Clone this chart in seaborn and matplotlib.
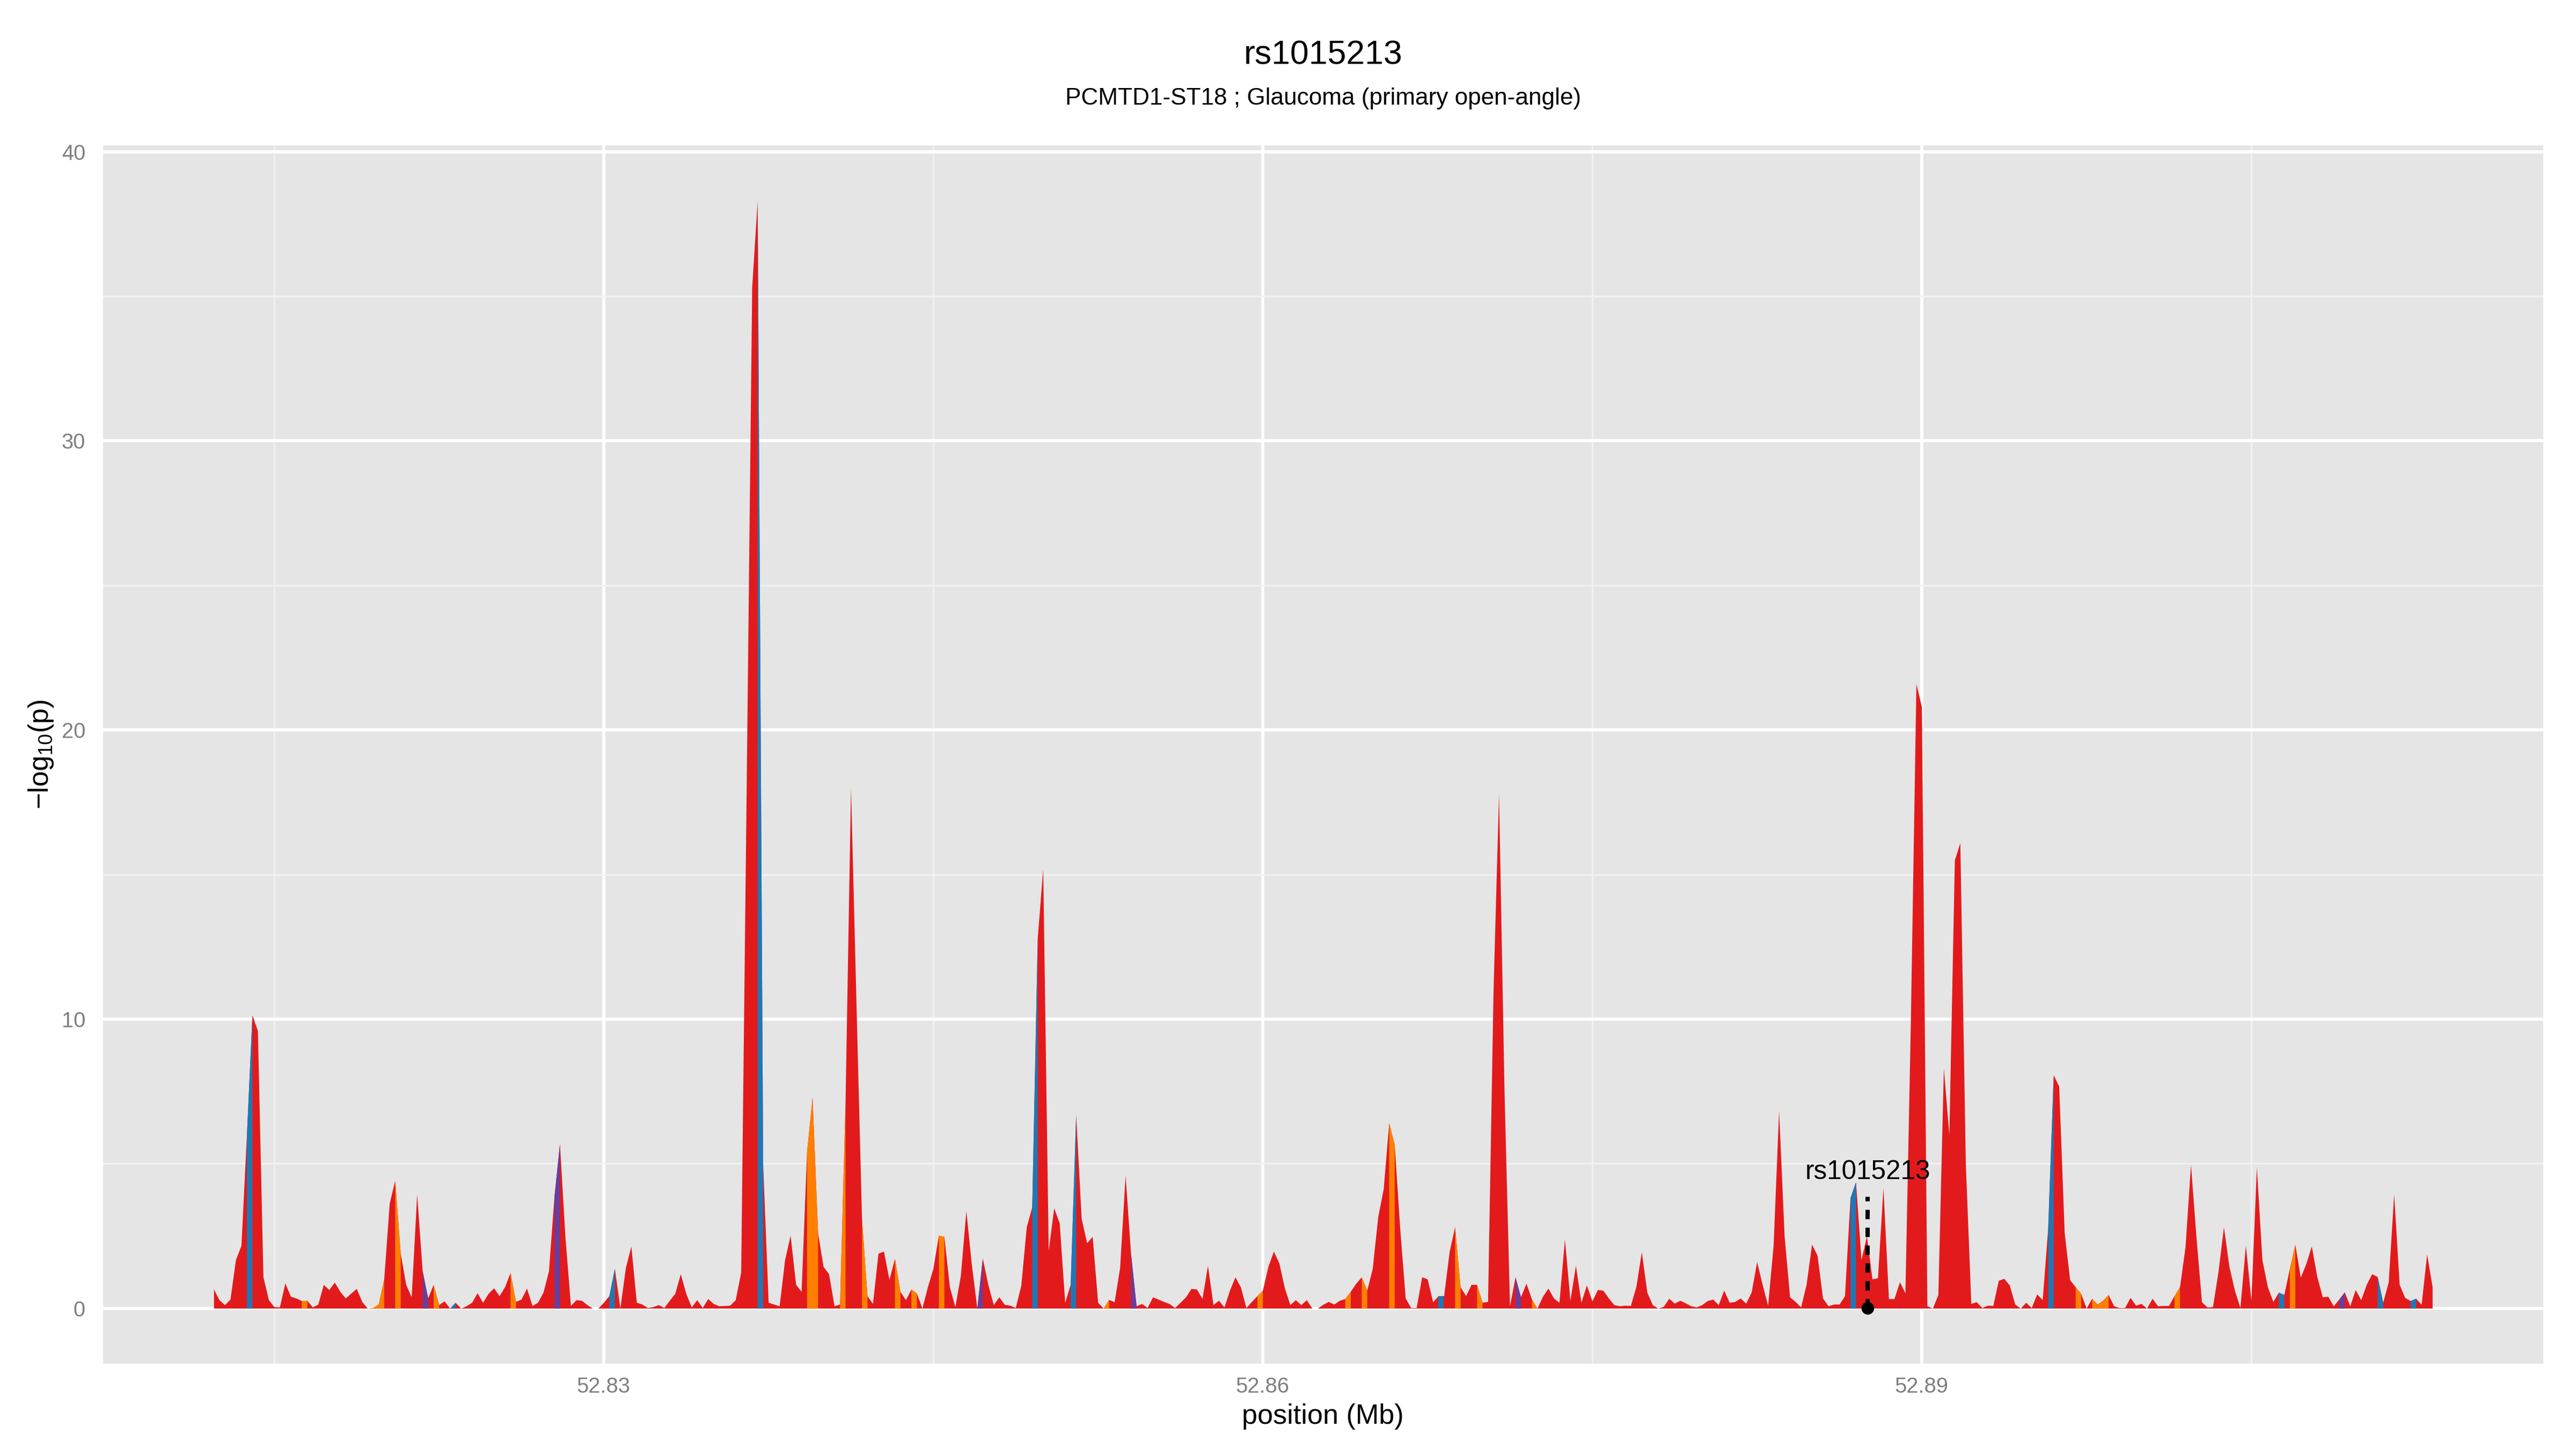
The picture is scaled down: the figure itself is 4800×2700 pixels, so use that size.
import numpy as np
import pandas as pd
import matplotlib
matplotlib.use("Agg")
import matplotlib.pyplot as plt
import seaborn as sns

# positions in kb above 52.80 Mb
POS_KB = [
    12.25, 12.5, 12.75, 13.0, 13.25, 13.5, 13.75, 14.0, 14.25, 14.5, 14.75, 15.0, 15.25, 15.5, 15.75, 16.0, 16.25, 16.5, 16.75, 17.0,
    17.25, 17.5, 17.75, 18.0, 18.25, 18.5, 18.75, 19.0, 19.25, 19.5, 19.75, 20.0, 20.25, 20.5, 20.75, 21.0, 21.25, 21.5, 21.75, 22.0,
    22.25, 22.5, 22.75, 23.0, 23.25, 23.5, 23.75, 24.0, 24.25, 24.5, 24.75, 25.0, 25.25, 25.5, 25.75, 26.0, 26.25, 26.5, 26.75, 27.0,
    27.25, 27.5, 27.75, 28.0, 28.25, 28.5, 28.75, 29.0, 29.25, 29.5, 29.75, 30.0, 30.25, 30.5, 30.75, 31.0, 31.25, 31.5, 31.75, 32.0,
    32.25, 32.5, 32.75, 33.0, 33.25, 33.5, 33.75, 34.0, 34.25, 34.5, 34.75, 35.0, 35.25, 35.5, 35.75, 36.0, 36.25, 36.5, 36.75, 37.0,
    37.25, 37.5, 37.75, 38.0, 38.25, 38.5, 38.75, 39.0, 39.25, 39.5, 39.75, 40.0, 40.25, 40.5, 40.75, 41.0, 41.25, 41.5, 41.75, 42.0,
    42.25, 42.5, 42.75, 43.0, 43.25, 43.5, 43.75, 44.0, 44.25, 44.5, 44.75, 45.0, 45.25, 45.5, 45.75, 46.0, 46.25, 46.5, 46.75, 47.0,
    47.25, 47.5, 47.75, 48.0, 48.25, 48.5, 48.75, 49.0, 49.25, 49.5, 49.75, 50.0, 50.25, 50.5, 50.75, 51.0, 51.25, 51.5, 51.75, 52.0,
    52.25, 52.5, 52.75, 53.0, 53.25, 53.5, 53.75, 54.0, 54.25, 54.5, 54.75, 55.0, 55.25, 55.5, 55.75, 56.0, 56.25, 56.5, 56.75, 57.0,
    57.25, 57.5, 57.75, 58.0, 58.25, 58.5, 58.75, 59.0, 59.25, 59.5, 59.75, 60.0, 60.25, 60.5, 60.75, 61.0, 61.25, 61.5, 61.75, 62.0,
    62.25, 62.5, 62.75, 63.0, 63.25, 63.5, 63.75, 64.0, 64.25, 64.5, 64.75, 65.0, 65.25, 65.5, 65.75, 66.0, 66.25, 66.5, 66.75, 67.0,
    67.25, 67.5, 67.75, 68.0, 68.25, 68.5, 68.75, 69.0, 69.25, 69.5, 69.75, 70.0, 70.25, 70.5, 70.75, 71.0, 71.25, 71.5, 71.75, 72.0,
    72.25, 72.5, 72.75, 73.0, 73.25, 73.5, 73.75, 74.0, 74.25, 74.5, 74.75, 75.0, 75.25, 75.5, 75.75, 76.0, 76.25, 76.5, 76.75, 77.0,
    77.25, 77.5, 77.75, 78.0, 78.25, 78.5, 78.75, 79.0, 79.25, 79.5, 79.75, 80.0, 80.25, 80.5, 80.75, 81.0, 81.25, 81.5, 81.75, 82.0,
    82.25, 82.5, 82.75, 83.0, 83.25, 83.5, 83.75, 84.0, 84.25, 84.5, 84.75, 85.0, 85.25, 85.5, 85.75, 86.0, 86.25, 86.5, 86.75, 87.0,
    87.25, 87.5, 87.75, 88.0, 88.25, 88.5, 88.75, 89.0, 89.25, 89.5, 89.75, 90.0, 90.25, 90.5, 90.75, 91.0, 91.25, 91.5, 91.75, 92.0,
    92.25, 92.5, 92.75, 93.0, 93.25, 93.5, 93.75, 94.0, 94.25, 94.5, 94.75, 95.0, 95.25, 95.5, 95.75, 96.0, 96.25, 96.5, 96.75, 97.0,
    97.25, 97.5, 97.75, 98.0, 98.25, 98.5, 98.75, 99.0, 99.25, 99.5, 99.75, 100.0, 100.25, 100.5, 100.75, 101.0, 101.25, 101.5, 101.75, 102.0,
    102.25, 102.5, 102.75, 103.0, 103.25, 103.5, 103.75, 104.0, 104.25, 104.5, 104.75, 105.0, 105.25, 105.5, 105.75, 106.0, 106.25, 106.5, 106.75, 107.0,
    107.25, 107.5, 107.75, 108.0, 108.25, 108.5, 108.75, 109.0, 109.25, 109.5, 109.75, 110.0, 110.25, 110.5, 110.75, 111.0, 111.25, 111.5, 111.75, 112.0,
    112.25, 112.5, 112.75, 113.0, 113.25,
]

LOG_P = [
    0.66, 0.29, 0.12, 0.31, 1.68, 2.17, 6.0, 10.14, 9.6, 1.09, 0.29, 0.05, 0.04, 0.87, 0.41, 0.35, 0.26, 0.27, 0.04, 0.14,
    0.82, 0.64, 0.9, 0.58, 0.35, 0.52, 0.68, 0.23, 0.0, 0.02, 0.14, 1.01, 3.63, 4.42, 1.91, 0.82, 0.39, 3.95, 1.29, 0.35,
    0.82, 0.12, 0.25, 0.0, 0.2, 0.0, 0.08, 0.2, 0.53, 0.2, 0.51, 0.7, 0.43, 0.74, 1.23, 0.23, 0.31, 0.69, 0.09, 0.2,
    0.55, 1.29, 3.86, 5.69, 2.46, 0.09, 0.29, 0.27, 0.12, 0.0, 0.0, 0.2, 0.43, 1.38, 0.0, 1.4, 2.15, 0.2, 0.14, 0.02,
    0.05, 0.12, 0.02, 0.27, 0.51, 1.19, 0.51, 0.04, 0.29, 0.02, 0.33, 0.16, 0.08, 0.09, 0.1, 0.29, 1.24, 18.0, 35.3, 38.3,
    5.0, 0.2, 0.14, 0.08, 1.68, 2.52, 0.82, 0.58, 5.42, 7.29, 2.61, 1.44, 1.19, 0.08, 0.14, 7.1, 18.03, 10.5, 3.1, 0.43,
    0.16, 1.9, 1.97, 0.99, 1.72, 0.58, 0.29, 0.66, 0.52, 0.0, 0.74, 1.37, 2.52, 2.48, 0.74, 0.05, 1.13, 3.37, 1.52, 0.0,
    1.73, 0.82, 0.12, 0.39, 0.13, 0.1, 0.02, 0.78, 2.81, 3.5, 12.8, 15.2, 2.0, 3.47, 2.95, 0.2, 0.82, 6.7, 3.1, 2.26,
    2.48, 0.2, 0.0, 0.3, 0.22, 1.4, 4.6, 1.87, 0.08, 0.16, 0.02, 0.39, 0.31, 0.23, 0.16, 0.02, 0.2, 0.39, 0.68, 0.66,
    0.33, 1.48, 0.12, 0.27, 0.04, 0.62, 1.08, 0.73, 0.02, 0.23, 0.43, 0.62, 1.44, 1.97, 1.56, 0.7, 0.12, 0.29, 0.12, 0.29,
    0.0, 0.0, 0.13, 0.23, 0.14, 0.27, 0.33, 0.58, 0.86, 1.08, 0.62, 1.37, 3.16, 4.13, 6.41, 5.67, 2.77, 0.35, 0.02, 0.02,
    1.08, 1.01, 0.22, 0.43, 0.43, 1.95, 2.82, 0.74, 0.43, 0.82, 0.82, 0.2, 0.23, 11.0, 17.8, 7.5, 0.08, 1.08, 0.39, 0.86,
    0.31, 0.0, 0.41, 0.69, 0.35, 0.2, 2.39, 0.27, 1.48, 0.2, 0.8, 0.25, 0.64, 0.62, 0.35, 0.12, 0.08, 0.1, 0.09, 0.74,
    1.95, 0.55, 0.12, 0.0, 0.06, 0.34, 0.17, 0.27, 0.18, 0.08, 0.04, 0.12, 0.26, 0.31, 0.12, 0.62, 0.2, 0.23, 0.35, 0.17,
    0.55, 1.61, 0.82, 0.1, 2.18, 6.83, 2.5, 0.39, 0.23, 0.04, 0.82, 2.21, 1.83, 0.35, 0.08, 0.14, 0.14, 0.43, 3.82, 4.37,
    1.68, 2.5, 1.01, 1.05, 4.17, 0.33, 0.33, 0.91, 0.53, 10.0, 21.6, 20.8, 0.08, 0.0, 0.47, 8.3, 6.0, 15.5, 16.1, 5.0,
    0.16, 0.22, 0.02, 0.1, 0.09, 0.96, 1.03, 0.8, 0.14, 0.0, 0.2, 0.02, 0.49, 0.29, 2.77, 8.07, 7.68, 2.61, 0.98, 0.74,
    0.51, 0.0, 0.34, 0.14, 0.27, 0.47, 0.08, 0.02, 0.02, 0.37, 0.1, 0.16, 0.0, 0.34, 0.08, 0.09, 0.09, 0.43, 0.74, 2.11,
    4.97, 2.46, 0.22, 0.04, 0.05, 1.25, 2.81, 1.44, 0.62, 0.02, 2.18, 0.27, 4.88, 1.68, 0.74, 0.23, 0.55, 0.47, 1.37, 2.21,
    1.07, 1.54, 2.15, 1.09, 0.39, 0.41, 0.08, 0.31, 0.56, 0.08, 0.64, 0.29, 0.82, 1.19, 1.09, 0.2, 0.9, 3.95, 0.82, 0.37,
    0.26, 0.34, 0.13, 1.87, 0.74,
]

# start (kb) of the stretches that belong to another group than the red one
ORANGE_KB = [16.25, 19.25, 19.5, 19.75, 20.5, 22.25, 25.75, 39.25, 39.5, 40.75, 41.75, 43.25, 44.0, 45.25,
             52.75, 59.75, 63.75, 64.5, 65.75, 68.75, 69.75, 72.25, 97.0, 97.75, 98.0, 98.25, 101.5, 106.75]
BLUE_KB = [13.75, 23.0, 30.25, 37.0, 49.5, 51.25, 68.0, 86.75, 95.75, 106.25, 110.75, 112.25]
PURPLE_KB = [21.75, 27.75, 47.0, 54.0, 71.5, 109.0]

SNP = "rs1015213"
SNP_POS = 52.88755
SNP_LINE_TOP = 3.85
SNP_LABEL_Y = 4.46

TITLE = "rs1015213"
SUBTITLE = "PCMTD1-ST18 ; Glaucoma (primary open-angle)"
X_TICKS = [52.83, 52.86, 52.89]
Y_TICKS = [0, 10, 20, 30, 40]

RED, ORANGE, BLUE, PURPLE = "#E31A1C", "#FF7F00", "#1F78B4", "#6A3D9A"


def make_plot():
    sns.set_style("darkgrid", {"axes.facecolor": "#E5E5E5", "grid.color": "white"})
    plt.rcParams["font.family"] = ["Liberation Sans", "DejaVu Sans"]
    plt.rcParams["text.color"] = "black"
    plt.rcParams["axes.labelcolor"] = "black"

    df = pd.DataFrame({"pos": 52.8 + np.array(POS_KB) / 1000.0, "logp": LOG_P})

    fig = plt.figure(figsize=(16, 9), dpi=300)
    ax = fig.add_axes([0.0399, 0.0589, 0.9474, 0.8407])

    ax.fill_between(df["pos"], 0, df["logp"], color=RED, lw=0, zorder=2)
    kb = np.array(POS_KB)
    for starts, col in [(ORANGE_KB, ORANGE), (BLUE_KB, BLUE), (PURPLE_KB, PURPLE)]:
        for s in starts:
            i = int(np.argmin(np.abs(kb - s)))
            seg = df.iloc[i:i + 2]
            ax.fill_between(seg["pos"], 0, seg["logp"], color=col, lw=0, zorder=3)

    ax.plot([SNP_POS, SNP_POS], [0, SNP_LINE_TOP], color="black", lw=1.9,
            ls=(0, (2.2, 2.0)), zorder=4)
    sns.scatterplot(x=[SNP_POS], y=[0], color="black", s=32, edgecolor="none", ax=ax, zorder=5)
    ax.text(SNP_POS, SNP_LABEL_Y, SNP, ha="center", va="baseline", fontsize=11.9,
            color="black", zorder=6)

    xr = df["pos"].max() - df["pos"].min()
    yr = df["logp"].max() - df["logp"].min()
    ax.set_xlim(df["pos"].min() - 0.05 * xr, df["pos"].max() + 0.05 * xr)
    ax.set_ylim(df["logp"].min() - 0.05 * yr, df["logp"].max() + 0.05 * yr)

    ax.set_xticks(X_TICKS, labels=[f"{t:.2f}" for t in X_TICKS])
    ax.set_yticks(Y_TICKS, labels=[str(t) for t in Y_TICKS])
    ax.set_xticks([t + 0.015 for t in [52.80] + X_TICKS], minor=True)
    ax.set_yticks([t + 5 for t in Y_TICKS[:-1]], minor=True)
    ax.grid(which="major", color="white", lw=1.42)
    ax.grid(which="minor", color="#F2F2F2", lw=0.71)
    ax.set_axisbelow(True)
    for sp in ax.spines.values():
        sp.set_visible(False)

    ax.tick_params(which="major", length=4.25, width=1.2, color="#7F7F7F",
                   labelcolor="#7F7F7F", labelsize=9.6)
    ax.tick_params(axis="x", which="major", pad=1.5)
    ax.tick_params(axis="y", which="major", pad=3.5)
    ax.tick_params(which="minor", length=0)

    ax.set_xlabel("position (Mb)", fontsize=12.5, va="center", color="black")
    ax.xaxis.set_label_coords(0.5, -0.0432)
    ax.set_ylabel(r"$\mathregular{-log_{10}(p)}$", fontsize=12.5, va="center", color="black")
    ax.yaxis.set_label_coords(-0.0252, 0.5)

    fig.text(0.5136, 0.9556, TITLE, ha="center", va="baseline", fontsize=15, color="black")
    fig.text(0.5136, 0.9278, SUBTITLE, ha="center", va="baseline", fontsize=10.6, color="black")

    fig.savefig("out.png", dpi=300)
    print("[SUCCESS] saved out.png")


if __name__ == "__main__":
    make_plot()
